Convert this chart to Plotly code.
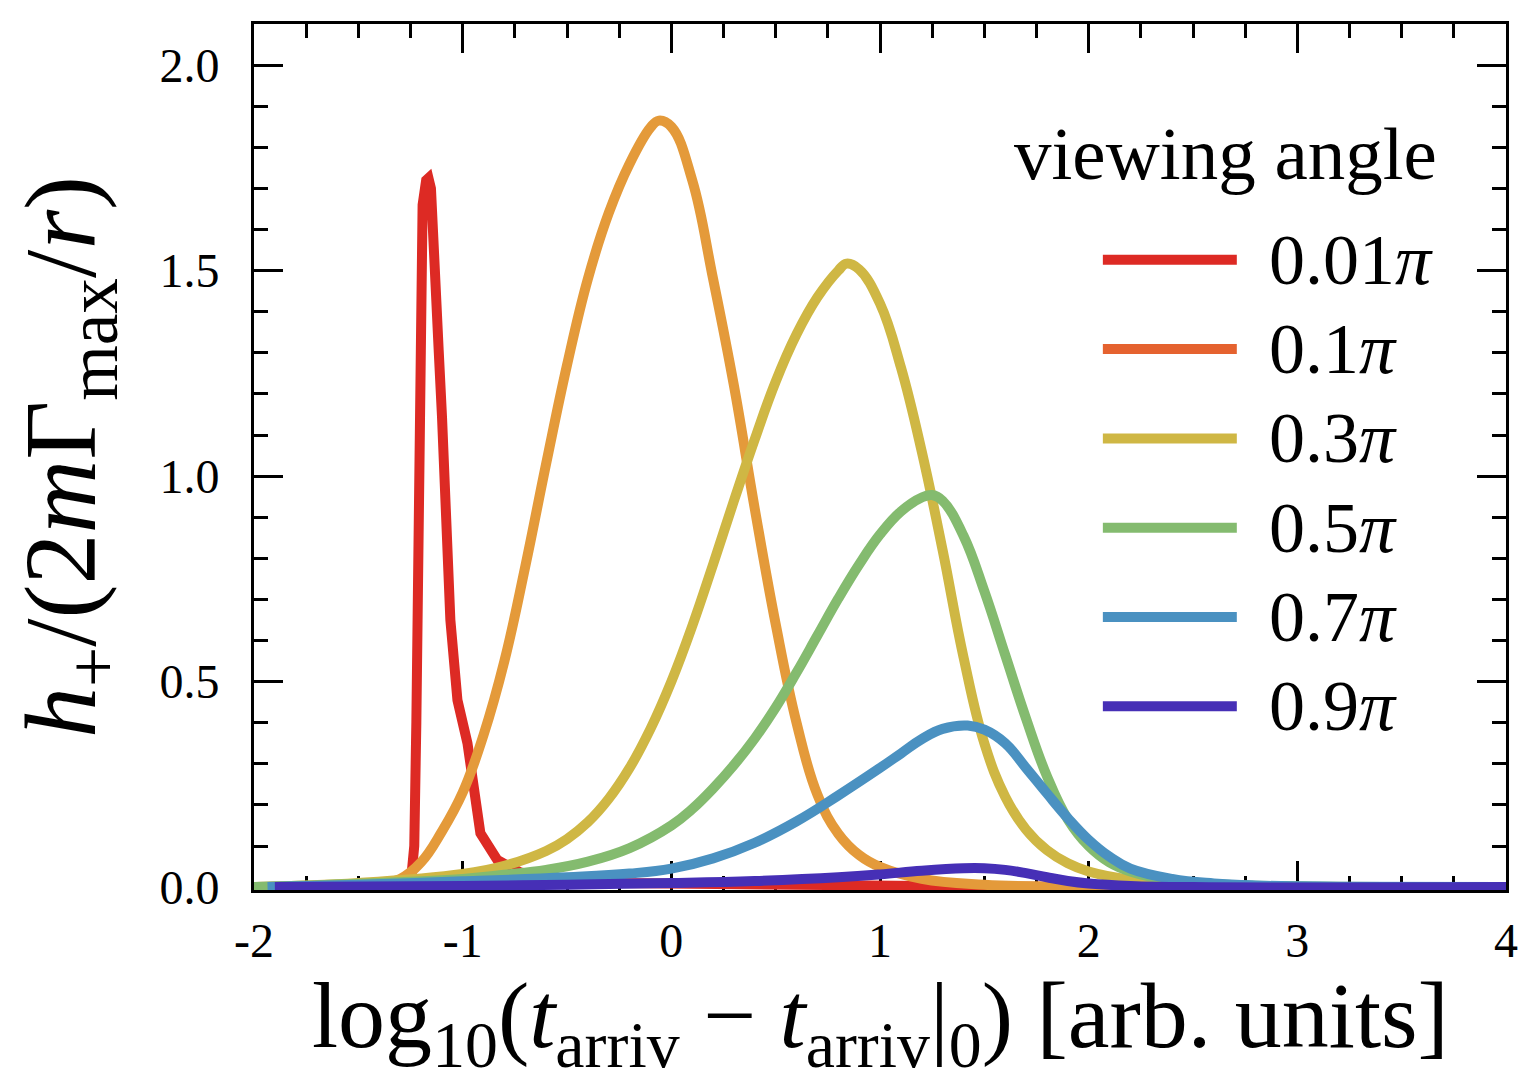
import plotly.graph_objects as go

# ---------------- data ----------------
labels = ["0.01π", "0.1π", "0.3π", "0.5π", "0.7π", "0.9π"]
label_html = ["0.01<i>π</i>", "0.1<i>π</i>", "0.3<i>π</i>", "0.5<i>π</i>", "0.7<i>π</i>", "0.9<i>π</i>"]

red_x = [-2.0, -1.6, -1.3, -1.262, -1.245, -1.232, -1.222, -1.214, -1.208, -1.203,
         -1.192, -1.175, -1.164, -1.152, -1.142, -1.115, -1.099, -1.091, -1.059, -1.025,
         -0.977, -0.915, -0.834, -0.724, -0.55, -0.25, 0.3, 1.0, 1.6, 2.2, 4.0]
red_y = [0.0, 0.0, 0.001, 0.003, 0.03, 0.10, 0.40, 0.85, 1.25, 1.52,
         1.66, 1.72, 1.725, 1.70, 1.55, 1.307, 1.144, 1.063, 0.65, 0.455,
         0.350, 0.131, 0.066, 0.036, 0.018, 0.010, 0.006, 0.003, 0.001, 0.0, 0.0]

orange_x = [-2.0, -1.6, -1.4, -1.3, -1.2, -1.1, -1.0, -0.9, -0.8, -0.7,
            -0.6, -0.5, -0.4, -0.3, -0.2, -0.1, -0.06, 0.0, 0.1, 0.2,
            0.3, 0.4, 0.5, 0.6, 0.7, 0.8, 0.9, 1.0, 1.2, 1.5, 2.0, 4.0]
orange_y = [0.0, 0.003, 0.008, 0.02, 0.06, 0.135, 0.23, 0.37, 0.55, 0.78,
            1.03, 1.27, 1.48, 1.64, 1.76, 1.848, 1.865, 1.85, 1.72, 1.48,
            1.22, 0.92, 0.64, 0.40, 0.225, 0.13, 0.078, 0.049, 0.02, 0.006, 0.001, 0.0]

yellow_x = [-2.0, -1.5, -1.0, -0.8, -0.6, -0.5, -0.4, -0.3, -0.2, -0.1,
            0.0, 0.1, 0.2, 0.3, 0.4, 0.5, 0.6, 0.7, 0.8, 0.84,
            0.9, 1.0, 1.1, 1.2, 1.3, 1.4, 1.5, 1.6, 1.7, 1.8,
            1.9, 2.0, 2.2, 2.5, 3.0, 4.0]
yellow_y = [0.0, 0.01, 0.032, 0.052, 0.088, 0.117, 0.158, 0.215, 0.29, 0.385,
            0.50, 0.635, 0.785, 0.94, 1.09, 1.23, 1.345, 1.435, 1.50, 1.517,
            1.503, 1.42, 1.265, 1.06, 0.82, 0.56, 0.35, 0.22, 0.14, 0.09,
            0.058, 0.038, 0.018, 0.007, 0.001, 0.0]

green_x = [-2.0, -1.5, -1.0, -0.8, -0.6, -0.4, -0.2, 0.0, 0.1, 0.2,
           0.3, 0.4, 0.5, 0.6, 0.7, 0.8, 0.9, 1.0, 1.1, 1.2,
           1.25, 1.3, 1.4, 1.5, 1.6, 1.7, 1.8, 1.9, 2.0, 2.1,
           2.2, 2.4, 2.6, 3.0, 4.0]
green_y = [0.0, 0.008, 0.02, 0.03, 0.042, 0.062, 0.095, 0.15, 0.19, 0.24,
           0.297, 0.362, 0.437, 0.522, 0.612, 0.702, 0.785, 0.858, 0.914, 0.948,
           0.954, 0.94, 0.855, 0.72, 0.565, 0.41, 0.27, 0.165, 0.10, 0.06,
           0.038, 0.016, 0.007, 0.002, 0.0]

blue_x = [-1.935, -1.5, -1.0, -0.5, -0.2, 0.0, 0.2, 0.4, 0.6, 0.8,
          1.0, 1.1, 1.2, 1.3, 1.42, 1.5, 1.6, 1.7, 1.8, 1.9,
          2.0, 2.1, 2.2, 2.4, 2.6, 2.8, 3.2, 4.0]
blue_y = [0.0, 0.006, 0.014, 0.024, 0.033, 0.045, 0.07, 0.108, 0.16, 0.223,
          0.29, 0.325, 0.36, 0.385, 0.393, 0.383, 0.35, 0.29, 0.228, 0.168,
          0.115, 0.074, 0.045, 0.02, 0.009, 0.004, 0.001, 0.0]

purple_x = [-1.9, -1.0, -0.5, 0.0, 0.4, 0.8, 1.0, 1.2, 1.4, 1.5,
            1.6, 1.7, 1.8, 1.9, 2.0, 2.2, 2.5, 4.0]
purple_y = [0.0, 0.003, 0.006, 0.010, 0.015, 0.024, 0.031, 0.040, 0.046, 0.046,
            0.042, 0.034, 0.024, 0.015, 0.009, 0.003, 0.0, 0.0]

x_tickvals = [-2, -1, 0, 1, 2, 3, 4]
x_ticktext = ["-2", "-1", "0", "1", "2", "3", "4"]
y_tickvals = [0.0, 0.5, 1.0, 1.5, 2.0]
y_ticktext = ["0.0", "0.5", "1.0", "1.5", "2.0"]

x_title = "log<sub>10</sub>(<i>t</i><sub>arriv</sub> − <i>t</i><sub>arriv</sub>|<sub>0</sub>) [arb. units]"
y_title = "<i>h</i><sub>+</sub>/(2<i>m</i>Γ<sub>max</sub>/<i>r</i>)"

curve_colors = ["#DD2A24", "#E49A3A", "#CFB744", "#84BB6F", "#4A91C1", "#462FB6"]
legend_colors = ["#DD2A24", "#E5622F", "#CFB744", "#84BB6F", "#4A91C1", "#462FB6"]

series = [(red_x, red_y), (orange_x, orange_y), (yellow_x, yellow_y),
          (green_x, green_y), (blue_x, blue_y), (purple_x, purple_y)]

FONT = "Liberation Serif"

fig = go.Figure()
for i, (xs, ys) in enumerate(series):
    fig.add_trace(go.Scatter(
        x=xs, y=ys, mode="lines", name=labels[i], showlegend=False,
        line=dict(color=curve_colors[i], width=10,
                  shape="linear" if i == 0 else "spline", smoothing=1.2),
        cliponaxis=False,
    ))

# manual legend (long line swatches)
leg_y = [0.7277, 0.6246, 0.5214, 0.4183, 0.3152, 0.2121]
for i in range(6):
    fig.add_shape(type="line", xref="paper", yref="paper",
                  x0=0.678, x1=0.785, y0=leg_y[i], y1=leg_y[i],
                  line=dict(color=legend_colors[i], width=10))
    fig.add_annotation(xref="paper", yref="paper", x=0.809, y=leg_y[i],
                       text=label_html[i], showarrow=False, xanchor="left", yanchor="middle",
                       font=dict(family=FONT, size=72, color="black"))
fig.add_annotation(xref="paper", yref="paper", x=0.7756, y=0.851,
                   text="viewing angle", showarrow=False, xanchor="center", yanchor="middle",
                   font=dict(family=FONT, size=75, color="black"))

# x-axis title placed as an annotation for exact vertical placement
fig.add_annotation(xref="paper", yref="paper", x=0.5, y=-0.152,
                   text=x_title, showarrow=False, xanchor="center", yanchor="middle",
                   font=dict(family=FONT, size=94, color="black"))

axis_common = dict(
    showline=True, linecolor="black", linewidth=3, mirror="ticks",
    ticks="inside", ticklen=29, tickwidth=3, tickcolor="black",
    showgrid=False, zeroline=False, layer="below traces",
    tickfont=dict(family=FONT, size=48, color="black"),
)

fig.update_xaxes(
    range=[-2, 4], tickmode="array", tickvals=x_tickvals, ticktext=x_ticktext,
    minor=dict(dtick=0.25, tick0=0, ticks="inside", ticklen=14, tickwidth=3, tickcolor="black", showgrid=False),
    ticklabelstandoff=6,
    **axis_common,
)
fig.update_yaxes(
    range=[-0.007, 2.1], tickmode="array", tickvals=y_tickvals, ticktext=y_ticktext,
    minor=dict(dtick=0.1, tick0=0, ticks="inside", ticklen=14, tickwidth=3, tickcolor="black", showgrid=False),
    ticklabelstandoff=22,
    title=dict(text=y_title, font=dict(family=FONT, size=102, color="black"), standoff=30),
    **axis_common,
)

fig.update_layout(
    width=1522, height=1082,
    margin=dict(l=254, r=16, t=24, b=192, autoexpand=False),
    paper_bgcolor="white", plot_bgcolor="white",
    showlegend=False,
)

fig.write_html("out.html")
